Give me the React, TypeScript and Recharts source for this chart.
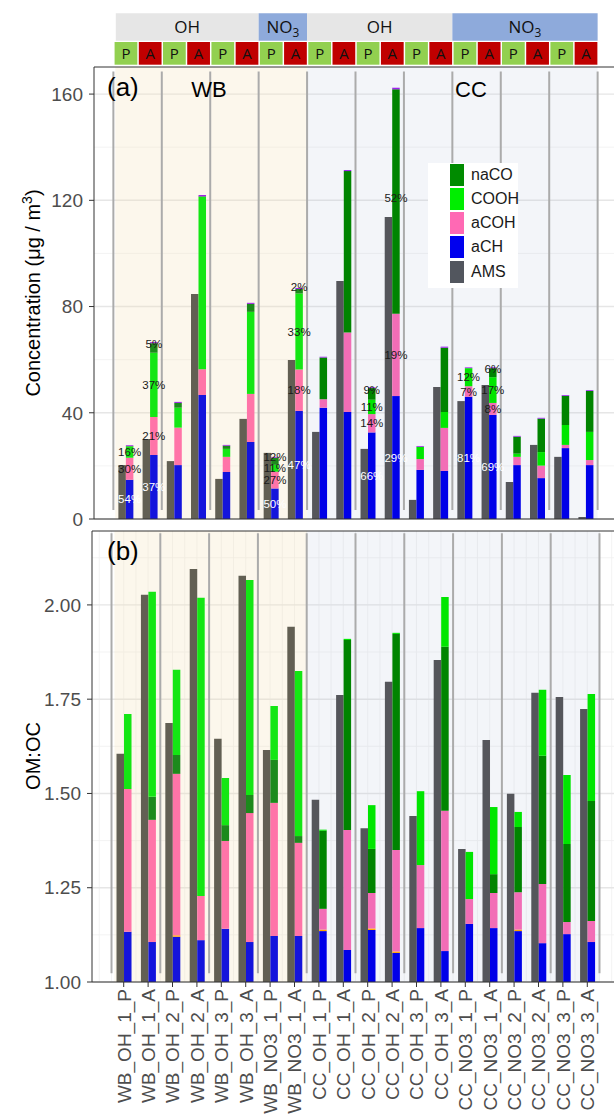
import React from "react";
import {
  Bar,
  CartesianGrid,
  Cell,
  ComposedChart,
  LabelList,
  ReferenceArea,
  ReferenceLine,
  XAxis,
  YAxis,
} from "recharts";

const FONT = "'Liberation Sans', Arial, Helvetica, sans-serif";
const HEADER_FONT = "'Open Sans', 'Noto Sans', sans-serif";
const AXIS_INK = "#4d4d4d";
const FRAME = "#333333";
const SEPARATOR = "#ababab";

const SAMPLES = [
  "WB_OH_1_P", "WB_OH_1_A", "WB_OH_2_P", "WB_OH_2_A", "WB_OH_3_P", "WB_OH_3_A",
  "WB_NO3_1_P", "WB_NO3_1_A",
  "CC_OH_1_P", "CC_OH_1_A", "CC_OH_2_P", "CC_OH_2_A", "CC_OH_3_P", "CC_OH_3_A",
  "CC_NO3_1_P", "CC_NO3_1_A", "CC_NO3_2_P", "CC_NO3_2_A", "CC_NO3_3_P", "CC_NO3_3_A",
];

// (a) concentration, ug/m3 (stack: aCH, aCOH, COOH, naCO, other)
const AMS_CONC = [20.3, 30.1, 21.8, 84.7, 15.1, 37.7, 24.9, 59.9, 32.8, 89.6, 26.4, 113.7, 7.2, 49.7, 44.4, 50.5, 13.9, 27.9, 23.4, 0.75];
const ACH_CONC = [14.8, 24.1, 20.3, 46.7, 17.7, 29.0, 11.5, 40.7, 41.9, 40.3, 32.6, 46.3, 18.5, 18.1, 46.0, 39.2, 20.3, 15.4, 26.7, 20.3];
const ACOH_CONC = [8.3, 14.3, 14.1, 9.7, 5.7, 18.1, 6.3, 15.6, 3.2, 29.9, 6.9, 31.0, 4.1, 16.2, 4.0, 4.5, 3.1, 4.7, 1.2, 1.9];
const COOH_CONC = [4.2, 24.2, 7.5, 64.9, 3.0, 30.9, 2.6, 28.6, 0, 0, 5.4, 0, 4.6, 6.0, 6.8, 9.7, 1.2, 5.1, 7.5, 10.6];
const NACO_CONC = [0.2, 3.6, 1.8, 0.2, 1.2, 3.0, 2.7, 1.7, 15.7, 60.8, 4.4, 84.5, 0, 24.2, 0, 3.4, 6.4, 12.6, 11.0, 15.4];
const OTHER_CONC = [0.3, 0.4, 0.4, 0.5, 0.3, 0.4, 0.3, 0.4, 0.3, 0.4, 0.3, 0.6, 0.3, 0.4, 0.3, 0.3, 0.3, 0.3, 0.3, 0.3];

const PCT_ACH = ["54%", "37%", "", "", "", "", "50%", "47%", "", "", "66%", "29%", "", "", "81%", "69%", "", "", "", ""];
const PCT_ACOH = ["30%", "21%", "", "", "", "", "27%", "18%", "", "", "14%", "19%", "", "", "7%", "8%", "", "", "", ""];
const PCT_COOH = ["16%", "37%", "", "", "", "", "11%", "33%", "", "", "11%", "", "", "", "12%", "17%", "", "", "", ""];
const PCT_NACO = ["", "5%", "", "", "", "", "12%", "2%", "", "", "9%", "52%", "", "", "", "6%", "", "", "", ""];

// (b) OM:OC (stack: aCH, other, aCOH, naCO, COOH)
const AMS_OMOC = [1.605, 2.027, 1.687, 2.095, 1.645, 2.077, 1.615, 1.942, 1.483, 1.761, 1.408, 1.796, 1.44, 1.854, 1.353, 1.642, 1.499, 1.767, 1.756, 1.724];
const ACH_OMOC = [1.133, 1.106, 1.12, 1.111, 1.141, 1.106, 1.122, 1.122, 1.135, 1.085, 1.138, 1.077, 1.143, 1.082, 1.154, 1.143, 1.135, 1.103, 1.127, 1.106];
const OTHER_OMOC = [0, 0, 0.004, 0, 0, 0, 0, 0, 0.004, 0, 0.004, 0.004, 0, 0, 0, 0, 0.004, 0, 0, 0];
const ACOH_OMOC = [0.379, 0.324, 0.428, 0.117, 0.233, 0.342, 0.353, 0.247, 0.055, 0.318, 0.094, 0.269, 0.167, 0.372, 0.066, 0.093, 0.099, 0.157, 0.032, 0.056];
const NACO_OMOC = [0, 0.061, 0.05, 0, 0.042, 0.048, 0.114, 0.018, 0.207, 0.504, 0.117, 0.573, 0, 0.435, 0, 0.05, 0.173, 0.34, 0.207, 0.318];
const COOH_OMOC = [0.199, 0.544, 0.226, 0.791, 0.125, 0.57, 0.143, 0.438, 0.003, 0.003, 0.116, 0.003, 0.196, 0.132, 0.125, 0.178, 0.04, 0.175, 0.183, 0.284];

const CONC_TICKS = [0, 40, 80, 120, 160];
const CONC_MINOR = [20, 60, 100, 140];
const OMOC_TICKS = [1, 1.25, 1.5, 1.75, 2];
const OMOC_MINOR = [1.125, 1.375, 1.625, 1.875, 2.125];

const LEGEND_KEYS = ["naCO", "COOH", "aCOH", "aCH", "AMS"];
const LEGEND_COLORS = ["#008B00", "#00EE00", "#FF69B4", "#0000EE", "#52565E"];

const PALETTE: Record<string, Record<string, string>> = {
  WB: { ams: "#625F53", ach: "#1414DC", acoh: "#FF74A8", cooh: "#14E614", naco: "#1C8A1C", other: "#A024E6", orange: "#FFA514" },
  CC: { ams: "#55565B", ach: "#0000E8", acoh: "#F26DB6", cooh: "#00E600", naco: "#008400", other: "#A020F0", orange: "#FFA500" },
};

const X_DOMAIN: [number, number] = [-0.3, 21.3];
const X_TICKS = SAMPLES.map((_, i) => i + 1);
const GRID_X = Array.from({ length: 43 }, (_, k) => k * 0.5);
const CHART_W = 630;

const siteOf = (i: number) => SAMPLES[i].split("_")[0];

const ROWS_A = SAMPLES.map((name, i) => ({
  x: i + 1, name,
  ams: AMS_CONC[i], ach: ACH_CONC[i], acoh: ACOH_CONC[i], cooh: COOH_CONC[i], naco: NACO_CONC[i], other: OTHER_CONC[i],
  pAch: PCT_ACH[i], pAcoh: PCT_ACOH[i], pCooh: PCT_COOH[i], pNaco: PCT_NACO[i],
}));

const ROWS_B = SAMPLES.map((name, i) => ({
  x: i + 1, name,
  ams: AMS_OMOC[i], ach: ACH_OMOC[i], orange: OTHER_OMOC[i], acoh: ACOH_OMOC[i], naco: NACO_OMOC[i], cooh: COOH_OMOC[i],
}));

// oxidant blocks for the strip on top
const GROUPS = SAMPLES.reduce((acc: { site: string; ox: string; start: number; end: number }[], name, i) => {
  const [site, ox] = name.split("_");
  const last = acc[acc.length - 1];
  if (last && last.site === site && last.ox === ox) last.end = i + 1;
  else acc.push({ site, ox, start: i + 1, end: i + 1 });
  return acc;
}, []);

// gray separators between replicate pairs
const SEPARATORS = [...SAMPLES.flatMap((name, i) => (name.endsWith("_P") ? [i + 0.5] : [])), SAMPLES.length + 0.5];

const cells = (key: string) => SAMPLES.map((_, i) => <Cell key={i} fill={PALETTE[siteOf(i)][key]} />);

function pctLabel(fill: string, shift = 0) {
  return (props: any) => {
    const { value } = props;
    if (!value) return null;
    const vb = props.viewBox ?? props;
    const x = Number(vb.x ?? props.x);
    const y = Number(vb.y ?? props.y);
    const w = Number(vb.width ?? props.width);
    const h = Number(vb.height ?? props.height);
    return (
      <text x={x + w / 2} y={y + h / 2 + shift} dy="0.36em" textAnchor="middle" fontSize={11.5} fontFamily={FONT} fill={fill}>
        {value}
      </text>
    );
  };
}

function headerText(text: string, size: number) {
  return (props: any) => {
    const vb = props.viewBox;
    if (!vb) return null;
    const cx = vb.x + vb.width / 2;
    const cy = vb.y + vb.height / 2;
    if (text === "NO3") {
      return (
        <text x={cx} y={cy} dy="0.36em" textAnchor="middle" fontSize={size} fontFamily={HEADER_FONT} fill="#111">
          NO<tspan dy={4} fontSize={size * 0.7}>3</tspan>
        </text>
      );
    }
    return (
      <text x={cx} y={cy} dy="0.36em" textAnchor="middle" fontSize={size} fontFamily={HEADER_FONT} fill="#111">
        {text}
      </text>
    );
  };
}

function SampleTick({ x, y, payload }: any) {
  const label = SAMPLES[Number(payload.value) - 1] ?? "";
  return (
    <text x={x} y={y} transform={`rotate(-90 ${x} ${y})`} textAnchor="end" dy="0.36em" fontSize={19} fontFamily={FONT} fill={AXIS_INK}>
      {label}
    </text>
  );
}

function Header() {
  return (
    <ComposedChart width={CHART_W} height={66} data={ROWS_A} margin={{ top: 0, right: 13, left: 94, bottom: 0 }}>
      <XAxis type="number" dataKey="x" domain={X_DOMAIN} hide allowDataOverflow />
      <YAxis type="number" domain={[0, 66]} hide allowDataOverflow />
      {GROUPS.map((g, k) => (
        <ReferenceArea
          key={`g${k}`}
          x1={Math.max(g.start - 0.5, 0.6)}
          x2={g.end + 0.5}
          y1={25.3}
          y2={52.7}
          fill={g.ox === "OH" ? "#E6E6E6" : "#8EAADB"}
          fillOpacity={1}
          stroke="none"
          label={headerText(g.ox, 17)}
        />
      ))}
      {SAMPLES.map((name, i) => (
        <ReferenceArea
          key={`p${i}`}
          x1={i + 1 - 0.45}
          x2={i + 1 + 0.49}
          y1={1.3}
          y2={24}
          fill={name.endsWith("_P") ? "#92D050" : "#C00000"}
          fillOpacity={1}
          stroke="none"
          label={headerText(name.slice(-1), 15)}
        />
      ))}
    </ComposedChart>
  );
}

function ConcentrationPanel() {
  const yMax = 170.2;
  return (
    <ComposedChart width={CHART_W} height={470} data={ROWS_A} barSize={7.5} barGap={0} margin={{ top: 7, right: 13, left: 34, bottom: 0 }}>
      <CartesianGrid horizontalValues={CONC_MINOR} verticalValues={GRID_X} stroke="#f0f0f0" strokeWidth={0.8} />
      <CartesianGrid horizontalValues={CONC_TICKS} vertical={false} stroke="#e6e6e6" strokeWidth={1.4} />
      <XAxis type="number" dataKey="x" domain={X_DOMAIN} ticks={X_TICKS} allowDataOverflow height={11} tick={false} tickSize={5} axisLine={{ stroke: FRAME }} tickLine={{ stroke: FRAME }} />
      <YAxis
        type="number"
        domain={[0, yMax]}
        ticks={CONC_TICKS}
        allowDataOverflow
        width={60}
        tickSize={5}
        tickMargin={6}
        axisLine={{ stroke: FRAME }}
        tickLine={{ stroke: FRAME }}
        tick={{ fill: AXIS_INK, fontSize: 19, fontFamily: FONT }}
        label={() => (
          <text x={40} y={233} transform="rotate(-90 40 233)" textAnchor="middle" fontSize={20} fontFamily={FONT} fill="#000">
            Concentration (μg / m<tspan dy={-8} fontSize={14}>3</tspan>
            <tspan dy={8}>)</tspan>
          </text>
        )}
      />
      <ReferenceArea x1={0.58} x2={8.5} y1={0} y2={yMax} fill="#F5DEB3" fillOpacity={0.25} stroke="none" zIndex={-50} />
      <ReferenceArea x1={8.5} x2={20.5} y1={0} y2={yMax} fill="#B0BAD8" fillOpacity={0.15} stroke="none" zIndex={-50} />
      {SEPARATORS.map((b) => (
        <ReferenceLine key={b} segment={[{ x: b, y: 3.4 }, { x: b, y: 168.5 }]} stroke={SEPARATOR} strokeWidth={2} zIndex={-40} />
      ))}
      <ReferenceLine y={yMax} stroke={FRAME} strokeWidth={1} />
      <Bar dataKey="ams" stackId="a" isAnimationActive={false}>{cells("ams")}</Bar>
      <Bar dataKey="ach" stackId="s" isAnimationActive={false}>
        {cells("ach")}
        <LabelList dataKey="pAch" content={pctLabel("#ffffff")} />
      </Bar>
      <Bar dataKey="acoh" stackId="s" isAnimationActive={false}>
        {cells("acoh")}
        <LabelList dataKey="pAcoh" content={pctLabel("#1a1a1a")} />
      </Bar>
      <Bar dataKey="cooh" stackId="s" isAnimationActive={false}>
        {cells("cooh")}
        <LabelList dataKey="pCooh" content={pctLabel("#1a1a1a")} />
      </Bar>
      <Bar dataKey="naco" stackId="s" isAnimationActive={false}>
        {cells("naco")}
        <LabelList dataKey="pNaco" content={pctLabel("#1a1a1a", -4)} />
      </Bar>
      <Bar dataKey="other" stackId="s" isAnimationActive={false}>{cells("other")}</Bar>
    </ComposedChart>
  );
}

function RatioPanel() {
  const yMax = 2.196;
  return (
    <ComposedChart width={CHART_W} height={599} data={ROWS_B} barSize={7.5} barGap={0} margin={{ top: 11, right: 11, left: 32, bottom: 0 }}>
      <CartesianGrid horizontalValues={OMOC_MINOR} verticalValues={GRID_X} stroke="#f0f0f0" strokeWidth={0.8} />
      <CartesianGrid horizontalValues={OMOC_TICKS} vertical={false} stroke="#e6e6e6" strokeWidth={1.4} />
      <XAxis type="number" dataKey="x" domain={X_DOMAIN} ticks={X_TICKS} allowDataOverflow height={137} tick={<SampleTick />} tickSize={5} tickMargin={2} interval={0} axisLine={{ stroke: FRAME }} tickLine={{ stroke: FRAME }} />
      <YAxis
        type="number"
        domain={[1, yMax]}
        ticks={OMOC_TICKS}
        allowDataOverflow
        width={60}
        tickSize={5}
        tickMargin={6}
        tickFormatter={(v) => Number(v).toFixed(2)}
        axisLine={{ stroke: FRAME }}
        tickLine={{ stroke: FRAME }}
        tick={{ fill: AXIS_INK, fontSize: 19, fontFamily: FONT }}
        label={() => (
          <text x={40} y={236} transform="rotate(-90 40 236)" textAnchor="middle" fontSize={20} fontFamily={FONT} fill="#000">
            OM:OC
          </text>
        )}
      />
      <ReferenceArea x1={0.62} x2={8.5} y1={1} y2={yMax} fill="#F5DEB3" fillOpacity={0.25} stroke="none" zIndex={-50} />
      <ReferenceArea x1={8.5} x2={20.5} y1={1} y2={yMax} fill="#B0BAD8" fillOpacity={0.15} stroke="none" zIndex={-50} />
      {SEPARATORS.map((b) => (
        <ReferenceLine key={b} segment={[{ x: b, y: 1.023 }, { x: b, y: 2.19 }]} stroke={SEPARATOR} strokeWidth={2} zIndex={-40} />
      ))}
      <ReferenceLine y={yMax} stroke={FRAME} strokeWidth={1} />
      <Bar dataKey="ams" stackId="a" isAnimationActive={false}>{cells("ams")}</Bar>
      <Bar dataKey="ach" stackId="s" isAnimationActive={false}>{cells("ach")}</Bar>
      <Bar dataKey="orange" stackId="s" isAnimationActive={false}>{cells("orange")}</Bar>
      <Bar dataKey="acoh" stackId="s" isAnimationActive={false}>{cells("acoh")}</Bar>
      <Bar dataKey="naco" stackId="s" isAnimationActive={false}>{cells("naco")}</Bar>
      <Bar dataKey="cooh" stackId="s" isAnimationActive={false}>{cells("cooh")}</Bar>
    </ComposedChart>
  );
}

function Legend() {
  const tops = [1, 25, 49, 72.5, 97.5];
  return (
    <div style={{ position: "absolute", left: 428, top: 163, width: 90, height: 125, background: "#fff", fontFamily: FONT }}>
      {LEGEND_KEYS.map((k, i) => (
        <div key={k} style={{ position: "absolute", left: 22, top: tops[i], height: 22, display: "flex", alignItems: "center" }}>
          <div style={{ width: 14, height: 22, background: LEGEND_COLORS[i] }} />
          <span style={{ marginLeft: 7, fontSize: 16, color: "#1a1a1a", lineHeight: "22px" }}>{k}</span>
        </div>
      ))}
    </div>
  );
}

export default function App() {
  return (
    <div style={{ position: "absolute", left: 0, top: 0, width: 614, height: 1119, overflow: "hidden", background: "#fff" }}>
      <div style={{ position: "absolute", left: 0, top: 0 }}>
        <Header />
      </div>
      <div style={{ position: "absolute", left: 0, top: 60 }}>
        <ConcentrationPanel />
      </div>
      <div style={{ position: "absolute", left: 0, top: 520 }}>
        <RatioPanel />
      </div>
      <Legend />
      <svg width={614} height={1119} style={{ position: "absolute", left: 0, top: 0, pointerEvents: "none" }}>
        <text x={107} y={95.5} fontSize={26} fontFamily={FONT} fill="#000">(a)</text>
        <text x={209} y={96.7} fontSize={22} fontFamily={FONT} fill="#000" textAnchor="middle">WB</text>
        <text x={471} y={97.3} fontSize={22} fontFamily={FONT} fill="#000" textAnchor="middle">CC</text>
        <text x={107} y={560} fontSize={26} fontFamily={FONT} fill="#000">(b)</text>
      </svg>
    </div>
  );
}
